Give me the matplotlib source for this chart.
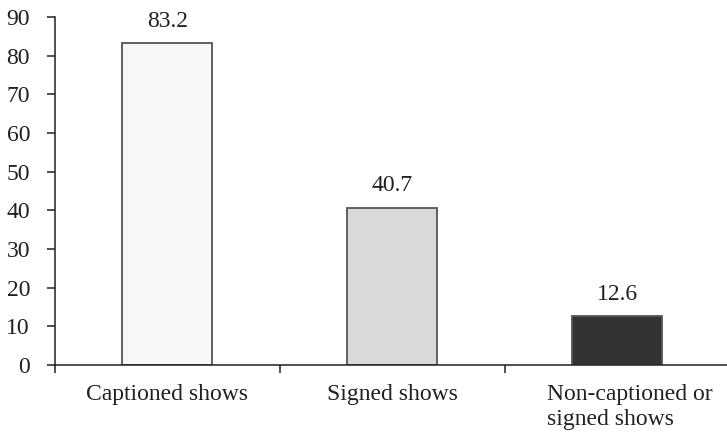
import matplotlib
matplotlib.use("Agg")
import matplotlib.pyplot as plt
import matplotlib.transforms as mtransforms
import numpy as np

categories = ["Captioned shows", "Signed shows", "Non-captioned or\nsigned shows"]
values = [83.2, 40.7, 12.6]
bar_colors = ["#f7f7f7", "#d8d9db", "#333333"]
yticks = [0, 10, 20, 30, 40, 50, 60, 70, 80, 90]

INK = "#231f20"

plt.rcParams["font.family"] = ["Liberation Serif", "DejaVu Serif"]
plt.rcParams["font.size"] = 17
plt.rcParams["text.color"] = INK


def main() -> None:
    fig = plt.figure(figsize=(7.27, 4.38), dpi=100)
    ax = fig.add_axes([55 / 727, 73 / 438, 1 - 55 / 727, (365 - 17) / 438])

    x = np.arange(len(categories))
    ax.bar(x, values, width=0.4, color=bar_colors, edgecolor="#555555", linewidth=1.3, zorder=2)

    # value labels sit above each bar
    for xi, v in zip(x, values):
        ax.annotate(f"{v:.1f}", (xi, v), xytext=(0, 12), textcoords="offset points",
                    ha="center", va="baseline", color=INK)

    ax.set_xlim(-0.5, 2.487)
    ax.set_ylim(0, 90)
    ax.set_yticks(yticks)

    # category names centred under bars, tick marks only between categories
    ax.set_xticks(x)
    ax.set_xticklabels(categories, multialignment="left", linespacing=1.25)
    ax.set_xticks([-0.5, 0.5, 1.5], minor=True)
    ax.tick_params(axis="x", which="major", length=0, pad=13.5, colors=INK)
    ax.tick_params(axis="x", which="minor", length=6, width=1.1, direction="out", color=INK)
    ax.tick_params(axis="y", length=6, width=1.1, pad=12, colors=INK)

    # nudge the two-line label a bit right like the printed layout
    lbl = ax.get_xticklabels()[2]
    lbl.set_transform(lbl.get_transform() + mtransforms.ScaledTranslation(12 / 100, 0, fig.dpi_scale_trans))

    for side in ("top", "right"):
        ax.spines[side].set_visible(False)
    for side in ("left", "bottom"):
        ax.spines[side].set_color(INK)
        ax.spines[side].set_linewidth(1.1)

    fig.savefig("out.png", dpi=100)


if __name__ == "__main__":
    main()
